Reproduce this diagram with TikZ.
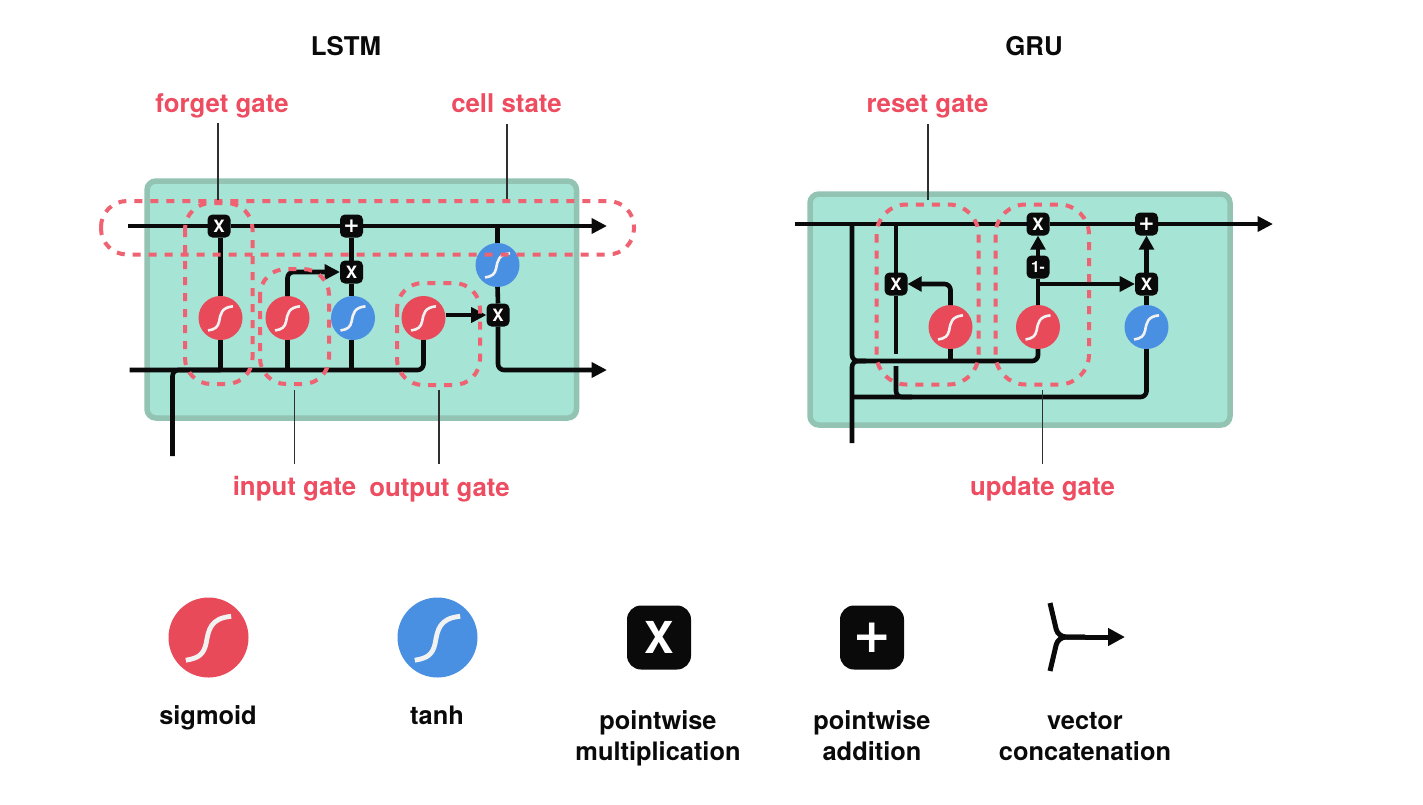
\documentclass[tikz,border=0pt]{standalone}
\usepackage{fontspec}
\setmainfont{TeX Gyre Heros}
\newfontfamily\plusfont{DejaVu Sans}
\usetikzlibrary{arrows.meta,calc}
\definecolor{boxfill}{HTML}{A6E4D5}
\definecolor{boxedge}{HTML}{93C4B3}
\definecolor{sigred}{HTML}{E84A5A}
\definecolor{tanblue}{HTML}{4A90E2}
\definecolor{dashred}{HTML}{EE6272}
\definecolor{labred}{HTML}{EE4C60}
\definecolor{ink}{HTML}{0A0A0A}
\newcommand{\scurve}[2]{%
  \draw[white!95!black,line width=#2,x=#1,y=-#1,shift={(path picture bounding box.center)}]
    (-.567,.567) .. controls (-.25,.52) and (-.12,.42) .. (-.06,.15)
    .. controls (0,-.2) and (.05,-.48) .. (.567,-.53);}
\tikzset{
  wire/.style={draw=ink,line width=4.6pt,line join=round},
  rwire/.style={wire,rounded corners=6pt},
  arw/.style={-{Triangle[length=15.5pt,width=15pt]}},
  arws/.style={-{Triangle[length=14pt,width=14.5pt]}},
  opbox/.style={fill=ink,rounded corners=5pt,minimum size=23pt,inner sep=0pt,outer sep=0pt,text=white},
  mulop/.style={opbox,font=\fontsize{17}{17}\selectfont\bfseries},
  addop/.style={opbox,font=\fontsize{20}{20}\selectfont\plusfont\bfseries},
  oneop/.style={opbox,font=\fontsize{15.5}{16}\selectfont\bfseries},
  smallfn/.style={circle,inner sep=0pt,outer sep=0pt,minimum size=44pt,path picture={\scurve{22pt}{2.6pt}}},
  largefn/.style={circle,inner sep=0pt,outer sep=0pt,minimum size=80pt,path picture={\scurve{40pt}{4.8pt}}},
  cellbox/.style={fill=boxfill,draw=boxedge,line width=5.5pt,rounded corners=9pt},
  gatebox/.style={draw=dashred,line width=4pt,dash pattern=on 8pt off 8pt,rounded corners=26pt},
  leader/.style={draw=ink!85,line width=1.4pt},
  ttl/.style={anchor=base,font=\fontsize{25.8}{30}\selectfont\bfseries,text=ink},
  redlab/.style={anchor=base,font=\fontsize{25.8}{30}\selectfont\bfseries,text=labred},
  leg/.style={anchor=base,font=\fontsize{25.4}{31}\selectfont\bfseries,text=ink,align=center,inner sep=0pt}
}
\begin{document}
\begin{tikzpicture}[x=1pt,y=-1pt]
\useasboundingbox (0,0) rectangle (1423,804);
\fill[white] (0,0) rectangle (1423,804);

% cell backgrounds
\draw[cellbox] (147,181) rectangle (576.5,418);
\draw[cellbox] (810,194) rectangle (1230,425);

% titles
\node[ttl] (tlstm) at (346,55) {LSTM};
\node[ttl] (tgru) at (1034,55) {GRU};
\node[redlab] (lforget) at (222,112.5) {forget gate};
\node[redlab] (lcell) at (506.5,112) {cell state};
\node[redlab] (linput) at (294.5,495.5) {input gate};
\node[redlab] (loutput) at (439.5,496.5) {output gate};
\node[redlab] (lreset) at (927.5,112.5) {reset gate};
\node[redlab] (lupdate) at (1042.5,495.5) {update gate};

% LSTM operators
\node[mulop] (lx1) at (219,226) {X};
\node[addop] (lp) at (351.5,226) {+};
\node[mulop] (lx2) at (351.5,272) {X};
\node[mulop] (lx3) at (498,315) {X};
\node[smallfn,fill=sigred] (ls1) at (220.5,318) {};
\node[smallfn,fill=sigred] (ls2) at (287.5,318) {};
\node[smallfn,fill=tanblue] (lt1) at (353,318) {};
\node[smallfn,fill=sigred] (ls3) at (423.5,318) {};
\node[smallfn,fill=tanblue] (lt2) at (497.5,265) {};
\coordinate (lin) at (128,226);
\coordinate (lout) at (607,226);
\coordinate (bin) at (129.5,370);
\coordinate (bout) at (607,370);
\coordinate (vin) at (172.5,456);

\draw[wire] (lin) -- (lx1);
\draw[wire] (lx1) -- (lp);
\draw[wire,arw] (lp) -- (lout);
\draw[wire] (ls1.north) -- (ls1.north |- lx1.south);
\draw[wire] (ls1.south) -- (ls1.south |- bin);
\draw[rwire,arw] (ls2.north) |- (lx2.west);
\draw[wire] (ls2.south) -- (ls2.south |- bin);
\draw[wire] (lp.south) -- (lx2.north);
\draw[wire] (lx2.south) -- (lx2.south |- lt1.north);
\draw[wire] (lx2.south |- lt1.south) -- (lx2.south |- bin);
\draw[rwire] (bin) -| (ls3.south);
\draw[rwire] (vin) |- (ls1.south |- bin);
\draw[wire] (lt2.north) -- (lt2.north |- lout);
\draw[wire] (lt2.south) -- (lx3.north);
\draw[rwire,arw] (lx3.south) |- (bout);
\draw[wire,arw] (ls3.east |- lx3) -- (lx3.west);

% GRU operators
\node[mulop] (gx1) at (1038,224) {X};
\node[oneop] (gm) at (1038,267) {1-};
\node[addop] (gp) at (1146.5,224) {+};
\node[mulop] (gx2) at (1146.5,284) {X};
\node[mulop] (gx3) at (896,284) {X};
\node[smallfn,fill=sigred] (gs1) at (950.5,327) {};
\node[smallfn,fill=sigred] (gs2) at (1038,327) {};
\node[smallfn,fill=tanblue] (gt) at (1146.5,327) {};
\coordinate (gin) at (795,224);
\coordinate (gout) at (1273,224);
\coordinate (gtap) at (852,224);
\coordinate (gmid) at (852,361);
\coordinate (gmidb) at (866,361);
\coordinate (gvin) at (852,443);
\coordinate (gbot) at (852,397);
\coordinate (gbrka) at (896,354);
\coordinate (gbrkb) at (896,366);
\coordinate (gbrkc) at (912,397);

\draw[wire] (gin) -- (gx1);
\draw[wire] (gx1) -- (gp);
\draw[wire,arw] (gp) -- (gout);
\draw[rwire] (gtap) -- (gmid) -- (gmid -| gs2.south) -- (gs2.south);
\draw[wire] (gs1.south) -- (gs1.south |- gmid);
\draw[rwire,arws] (gs1.north) |- (gx3.east);
\draw[wire] (gx3.north) -- (gx3.north |- gin);
\draw[wire] (gx3.south) -- (gbrka);
\draw[rwire] (gbrkb) |- (gbrkc);
\draw[rwire] (gvin) |- (gmidb);
\draw[rwire] (gbot) -| (gt.south);
\draw[wire] (gs2.north) -- (gm.south);
\draw[wire,arws] (gm.north) -- (gx1.south);
\draw[wire,arw] (gm.south |- gx2) -- (gx2.west);
\draw[wire,arws] (gx2.north) -- (gp.south);
\draw[wire] (gt.north) -- (gx2.south);

% dashed gate outlines
\draw[gatebox] (101,201) rectangle (634,254.5);
\draw[gatebox] (185,203) rectangle (252.5,384);
\draw[gatebox] (260,269) rectangle (329,384);
\draw[gatebox] (397,283) rectangle (480,385);
\draw[gatebox,rounded corners=30pt] (876.5,204.5) rectangle (978.5,384.5);
\draw[gatebox,rounded corners=30pt] (995.5,204.5) rectangle (1089,384.5);

% leaders
\coordinate (fa) at (218,123); \coordinate (fb) at (218,200);
\coordinate (ca) at (507,124); \coordinate (cb) at (507,199);
\coordinate (ia) at (294.5,390); \coordinate (ib) at (294.5,464);
\coordinate (oa) at (439,390); \coordinate (ob) at (439,464);
\coordinate (ra) at (928,124); \coordinate (rb) at (928,200);
\coordinate (ua) at (1042.5,390); \coordinate (ub) at (1042.5,464);
\draw[leader] (fa) -- (fb);
\draw[leader] (ca) -- (cb);
\draw[leader] (ia) -- (ib);
\draw[leader] (oa) -- (ob);
\draw[leader] (ra) -- (rb);
\draw[leader] (ua) -- (ub);

% legend
\node[largefn,fill=sigred] (ks) at (208.5,637.5) {};
\node[largefn,fill=tanblue] (kt) at (437.5,637.5) {};
\node[fill=ink,rounded corners=14pt,minimum size=64pt,inner sep=0pt,text=white,font=\fontsize{44}{44}\selectfont\bfseries] (kx) at (659,637.5) {X};
\node[fill=ink,rounded corners=14pt,minimum size=64pt,inner sep=0pt,text=white,font=\fontsize{47}{47}\selectfont\plusfont\bfseries] (kp) at (872,637.5) {+};
\coordinate (ka) at (1050,603);
\coordinate (kb) at (1050,671);
\coordinate (kj) at (1058,637);
\coordinate (km) at (1085,637);
\coordinate (ke) at (1125,637);
\draw[wire,line width=5pt,rounded corners=8pt] (ka) -- (kj) -- (km);
\draw[wire,line width=5pt,rounded corners=8pt] (kb) -- (kj) -- (km);
\draw[wire,line width=5pt,-{Triangle[length=17pt,width=17pt]}] (km) -- (ke);
\node[leg] (ns) at (208,724) {sigmoid};
\node[leg] (nt) at (437,724) {tanh};
\node[leg] (nx) at (658,760) {pointwise\\multiplication};
\node[leg] (np) at (872,760) {pointwise\\addition};
\node[leg] (nc) at (1085,760) {vector\\concatenation};
\end{tikzpicture}
\end{document}
